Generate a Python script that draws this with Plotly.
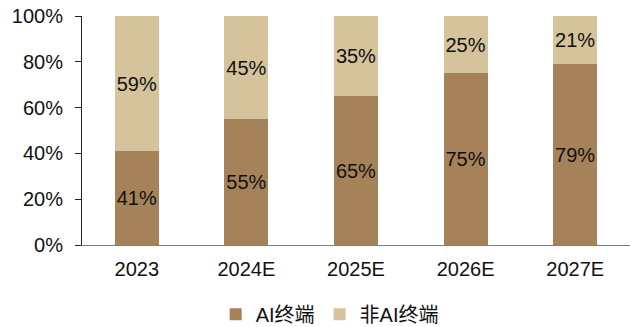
import plotly.graph_objects as go

categories = ["2023", "2024E", "2025E", "2026E", "2027E"]
ai_values = [41, 55, 65, 75, 79]
non_ai_values = [59, 45, 35, 25, 21]
series_names = ["AI终端", "非AI终端"]
y_ticks = [0, 20, 40, 60, 80, 100]
y_tick_labels = ["0%", "20%", "40%", "60%", "80%", "100%"]

font_family = "Liberation Sans, Arial, Noto Sans CJK SC, sans-serif"

fig = go.Figure()
fig.add_trace(go.Bar(
    x=categories, y=ai_values, name=series_names[0],
    marker=dict(color="#A6825B", line=dict(width=0)),
    text=[f"{v}%" for v in ai_values], textposition="inside",
    insidetextanchor="middle", textangle=0, constraintext="none",
    textfont=dict(size=20, color="#111111", family=font_family),
))
fig.add_trace(go.Bar(
    x=categories, y=non_ai_values, name=series_names[1],
    marker=dict(color="#D5C39B", line=dict(width=0)),
    text=[f"{v}%" for v in non_ai_values], textposition="inside",
    insidetextanchor="middle", textangle=0, constraintext="none",
    textfont=dict(size=20, color="#111111", family=font_family),
))

fig.update_layout(
    barmode="stack",
    bargap=0.6,
    width=636, height=327,
    margin=dict(l=82, r=6, t=16, b=82, autoexpand=False),
    plot_bgcolor="white", paper_bgcolor="white",
    font=dict(family=font_family, size=20, color="#111111"),
    uniformtext=dict(mode="show", minsize=10),
    showlegend=True,
    legend=dict(orientation="h", x=0.452, xanchor="center", y=-0.302, yanchor="middle",
                font=dict(size=20), tracegroupgap=0, itemwidth=30,
                traceorder="normal"),
    xaxis=dict(showline=True, linecolor="#7f7f7f", linewidth=1, ticks="",
               tickfont=dict(size=20), showgrid=False, ticklabelstandoff=6),
    yaxis=dict(range=[0, 100], tickvals=y_ticks, ticktext=y_tick_labels,
               showline=True, linecolor="#222222", linewidth=1,
               ticks="outside", ticklen=6, tickcolor="#222222",
               showgrid=False, zeroline=False, tickfont=dict(size=20),
               ticklabelstandoff=8, ticklabeloverflow="allow"),
)

fig.write_html(
    "out.html",
    config={"displayModeBar": False},
    post_script="document.body.style.margin='0';document.body.style.overflow='hidden';",
)
